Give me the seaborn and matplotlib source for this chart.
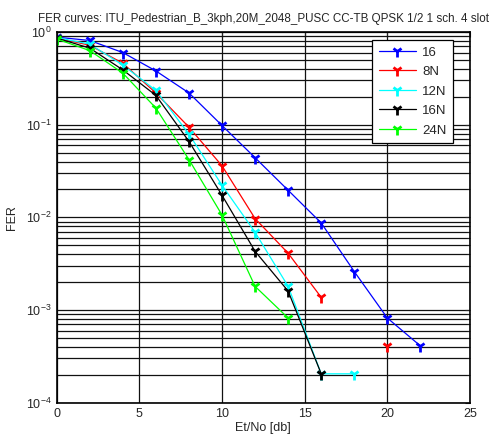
import numpy as np
import pandas as pd
import matplotlib
matplotlib.use("Agg")
import matplotlib.pyplot as plt
import seaborn as sns

# --- data ---
snr = [0, 2, 4, 6, 8, 10, 12, 14, 16, 18, 20, 22]
fer_16 = [0.88, 0.81, 0.60, 0.38, 0.22, 0.098, 0.044, 0.0196, 0.0087, 0.0026, 0.00082, 0.00041]
fer_8n = [0.86, 0.72, 0.46, 0.22, 0.094, 0.036, 0.0097, 0.0041, 0.00137, np.nan, 0.00041, np.nan]
fer_12n = [0.87, 0.74, 0.44, 0.234, 0.079, 0.0222, 0.0069, 0.0018, 0.000205, 0.000205, np.nan, np.nan]
fer_16n = [0.86, 0.67, 0.39, 0.207, 0.066, 0.0173, 0.0043, 0.0016, 0.000205, np.nan, np.nan, np.nan]
fer_24n = [0.84, 0.63, 0.36, 0.151, 0.042, 0.0106, 0.0018, 0.00082, np.nan, np.nan, np.nan, np.nan]

labels = ["16", "8N", "12N", "16N", "24N"]
colors = ["#0000ff", "#ff0000", "#00ffff", "#000000", "#00ff00"]
series = [fer_16, fer_8n, fer_12n, fer_16n, fer_24n]

sns.set_style("white")
plt.rcParams['font.family'] = ['Liberation Sans', 'DejaVu Sans']

fig = plt.figure(figsize=(5, 4.42), dpi=100)
ax = fig.add_axes([0.1134, 0.0889, 0.8266, 0.8387])

for lab, col, vals in zip(labels, colors, series):
    df = pd.DataFrame({"snr": snr, "fer": vals})
    # split on gaps so the isolated points stay unconnected
    seg_id = df["fer"].isna().cumsum()
    first = True
    for _, seg in df.dropna().groupby(seg_id[df["fer"].notna()]):
        sns.lineplot(data=seg, x="snr", y="fer", ax=ax, color=col, lw=0.9,
                     marker="1", markersize=8, markeredgewidth=2,
                     markeredgecolor=col, markerfacecolor=col,
                     label=lab if first else None, legend=False)
        first = False

ax.set_yscale("log")
ax.set_xlim(0, 25)
ax.set_ylim(1e-4, 1)
ax.set_xticks([0, 5, 10, 15, 20, 25])
ax.grid(True, which="major", axis="x", color="#111111", lw=0.9)
ax.grid(True, which="both", axis="y", color="#111111", lw=0.9)
ax.tick_params(which="both", direction="in", labelsize=9, top=True, right=True)
for s in ax.spines.values():
    s.set_color("black")
    s.set_linewidth(1.2)

ax.set_title("FER curves: ITU_Pedestrian_B_3kph,20M_2048_PUSC CC-TB QPSK 1/2 1 sch. 4 slot",
             fontsize=8.4, pad=7)
ax.set_xlabel("Et/No [db]", fontsize=9, labelpad=2)
ax.set_ylabel("FER", fontsize=9, labelpad=6)

leg = ax.legend(loc="upper right", bbox_to_anchor=(0.92, 0.925), bbox_transform=fig.transFigure,
                fontsize=9.5, handlelength=2.8, handletextpad=0.5, frameon=True, fancybox=False,
                edgecolor="black", framealpha=1, borderpad=0.5, labelspacing=0.55)
leg.get_frame().set_linewidth(0.9)

fig.savefig("out.png", dpi=100)
